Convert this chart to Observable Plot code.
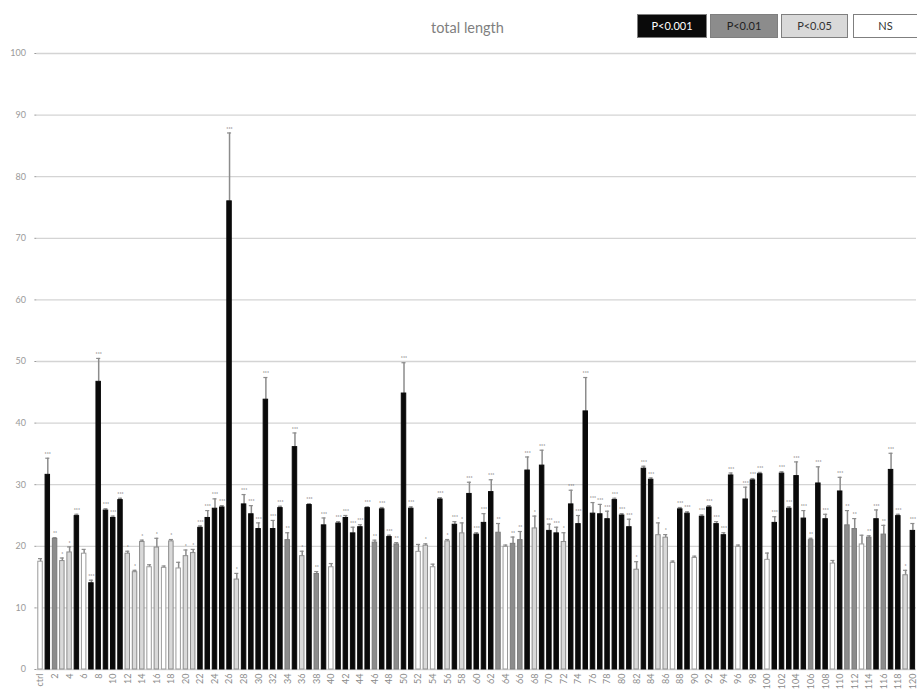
<!DOCTYPE html>
<html>
<head>
<meta charset="utf-8">
<script src="https://cdn.jsdelivr.net/npm/d3@7"></script>
<script src="https://cdn.jsdelivr.net/npm/@observablehq/plot@0.6"></script>
<style>
  body { margin: 0; background: #fff; font-family: Lato, "Open Sans", sans-serif; }
  #head { position: relative; width: 917px; height: 44px; }
  #title { position: absolute; left: 9px; width: 917px; top: 19px; text-align: center; font-size: 14.5px; color: #7f7f7f; }
  .lg { position: absolute; top: 14px; height: 22px; line-height: 22px; text-align: center; font-size: 11px; border: 1px solid #7f7f7f; box-sizing: content-box; }
</style>
</head>
<body>
<div id="head">
  <div id="title">total length</div>
  <div id="legend"></div>
</div>
<div id="chart"></div>
<script>
const categories = ["ctrl", ...d3.range(1, 121).map(String)];
const tickLabels = categories.filter((c, i) => i % 2 === 0);
const yTicks = [0, 10, 20, 30, 40, 50, 60, 70, 80, 90, 100];

const values = [
  17.5, 31.6, 21.2, 17.6, 19.0, 24.9, 18.8, 14.0, 46.7, 25.8,
  24.6, 27.5, 18.8, 15.8, 20.7, 16.6, 19.8, 16.5, 20.8, 16.4,
  18.4, 18.9, 23.0, 24.6, 26.1, 26.3, 76.0, 14.6, 26.8, 25.2,
  22.8, 43.8, 22.8, 26.2, 21.0, 36.1, 18.4, 26.7, 15.5, 23.4,
  16.6, 23.7, 24.6, 22.1, 23.1, 26.2, 20.6, 26.0, 21.5, 20.3,
  44.8, 26.1, 19.1, 20.1, 16.6, 27.6, 20.8, 23.5, 22.1, 28.5,
  21.9, 23.8, 28.8, 22.2, 19.9, 20.4, 21.0, 32.3, 22.9, 33.1,
  22.5, 22.1, 20.7, 26.8, 23.6, 41.9, 25.3, 25.2, 24.4, 27.5,
  25.0, 23.1, 16.2, 32.6, 30.8, 21.8, 21.4, 17.3, 26.0, 25.3,
  18.1, 24.8, 26.3, 23.6, 21.8, 31.5, 19.9, 27.6, 30.7, 31.7,
  17.8, 23.8, 31.8, 26.1, 31.4, 24.5, 21.0, 30.2, 24.4, 17.2,
  28.9, 23.4, 22.8, 20.3, 21.4, 24.4, 21.9, 32.4, 24.9, 15.3,
  22.5
];

const errorHigh = [
  18.0, 34.3, 21.4, 18.1, 19.9, 25.2, 19.5, 14.5, 50.5, 26.1,
  24.9, 27.8, 19.2, 16.1, 21.0, 17.0, 21.3, 16.8, 21.1, 17.4,
  19.4, 19.5, 23.3, 25.8, 27.7, 26.6, 87.1, 15.6, 28.4, 26.6,
  23.8, 47.4, 24.2, 26.5, 22.2, 38.4, 19.2, 26.9, 15.9, 24.6,
  17.2, 24.0, 25.0, 23.1, 23.5, 26.4, 21.0, 26.3, 21.8, 20.6,
  49.8, 26.4, 20.3, 20.4, 17.1, 27.9, 21.1, 24.0, 23.8, 30.4,
  22.2, 25.3, 30.8, 23.7, 20.2, 21.5, 22.4, 34.5, 24.9, 35.6,
  23.6, 23.1, 22.2, 29.1, 25.0, 47.4, 27.1, 26.8, 25.7, 27.8,
  25.3, 24.4, 17.5, 33.0, 31.1, 23.8, 21.9, 17.6, 26.3, 25.6,
  18.4, 25.1, 26.6, 24.0, 22.2, 31.9, 20.2, 29.6, 31.0, 32.0,
  18.9, 24.8, 32.1, 26.4, 33.7, 25.8, 21.3, 32.9, 25.2, 17.7,
  31.2, 25.8, 24.5, 21.8, 21.7, 25.9, 23.4, 35.1, 25.2, 16.1,
  23.7
];

// a = P<0.001, b = P<0.01, c = P<0.05, n = NS
const significance = [
  "n","a","b","c","c","a","n","a","a","a",
  "a","a","c","c","c","n","c","n","c","n",
  "c","c","a","a","a","a","a","c","a","a",
  "a","a","a","a","b","a","c","a","b","a",
  "n","a","a","a","a","a","b","a","a","b",
  "a","a","n","c","n","a","c","a","c","a",
  "a","a","a","b","n","b","b","a","c","a",
  "a","a","c","a","a","a","a","a","a","a",
  "a","a","c","a","a","c","c","n","a","a",
  "n","a","a","a","a","a","n","a","a","a",
  "n","a","a","a","a","a","b","a","a","n",
  "a","b","b","n","b","a","b","a","a","c",
  "a"
];

const sigCodes = ["a", "b", "c", "n"];
const sigLabels = ["P<0.001", "P<0.01", "P<0.05", "NS"];
const sigFill = {a: "#0a0a0a", b: "#8c8c8c", c: "#d9d9d9", n: "#ffffff"};
const sigStroke = {a: "#0a0a0a", b: "#7a7a7a", c: "#8c8c8c", n: "#9a9a9a"};
const sigText = {a: "#ffffff", b: "#222222", c: "#333333", n: "#333333"};
const sigStars = {a: "***", b: "**", c: "*", n: ""};

// legend
const legendPos = [[637, 68], [710, 66], [781, 65], [853, 63]];
const legend = document.getElementById("legend");
sigCodes.forEach((s, i) => {
  const d = document.createElement("div");
  d.className = "lg";
  d.style.left = legendPos[i][0] + "px";
  d.style.width = legendPos[i][1] + "px";
  d.style.background = sigFill[s];
  d.style.color = sigText[s];
  d.textContent = sigLabels[i];
  legend.appendChild(d);
});

const data = categories.map((c, i) => ({cat: c, value: values[i], high: errorHigh[i], sig: significance[i]}));

const chart = Plot.plot({
  width: 917,
  height: 649,
  marginTop: 9,
  marginBottom: 24,
  marginLeft: 36.4,
  marginRight: 1,
  style: {fontFamily: "Lato, 'Open Sans', sans-serif", background: "#fff"},
  x: {type: "band", domain: categories, paddingInner: 0, paddingOuter: 0},
  y: {domain: [0, 100]},
  color: {type: "identity"},
  marks: [
    Plot.gridY(yTicks, {stroke: "#d4d4d4", strokeOpacity: 1, strokeWidth: 1.3}),
    Plot.axisY(yTicks, {tickSize: 2, tickPadding: 9, fontSize: 9, color: "#9a9a9a", label: null}),
    Plot.axisX(tickLabels, {tickRotate: -90, tickSize: 0, tickPadding: 4, fontSize: 9, color: "#8a8a8a", label: null}),
    Plot.ruleX(data, {x: "cat", y1: "value", y2: "high", stroke: "#8c8c8c", strokeWidth: 1.5}),
    Plot.tickY(data, {x: "cat", y: "high", stroke: "#8c8c8c", strokeWidth: 1.2, insetLeft: 1.6, insetRight: 1.6}),
    Plot.barY(data, {
      x: "cat", y: "value",
      fill: d => sigFill[d.sig],
      stroke: d => sigStroke[d.sig],
      strokeWidth: 1,
      insetLeft: 1.4, insetRight: 1.4
    }),
    Plot.text(data, {x: "cat", y: "high", text: d => sigStars[d.sig], dy: -4, fontSize: 5, fill: "#555"})
  ]
});
document.getElementById("chart").appendChild(chart);
</script>
</body>
</html>
